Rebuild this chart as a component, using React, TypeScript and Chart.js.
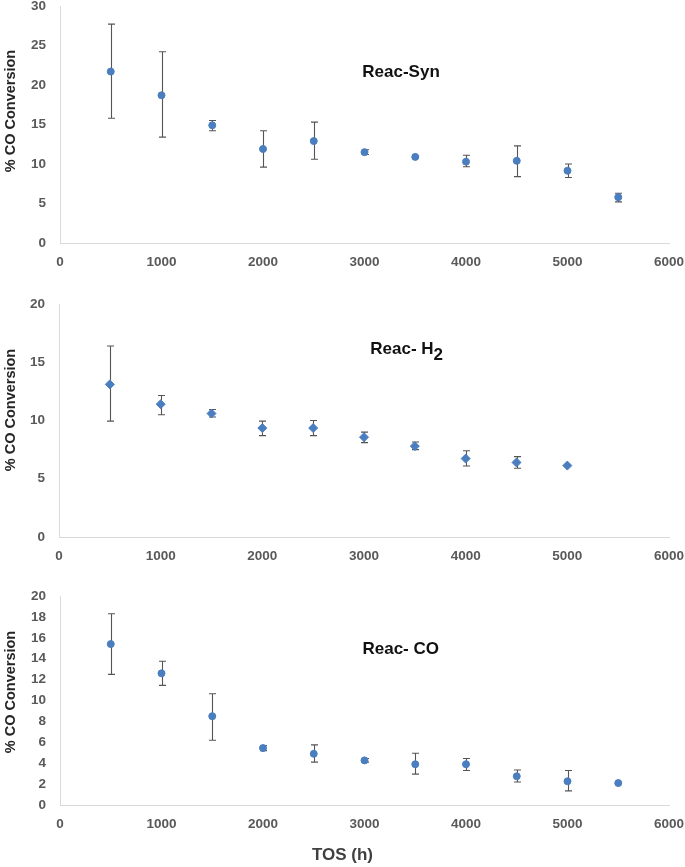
import React, { useEffect, useRef } from "react";
import { Chart, registerables } from "chart.js";

Chart.register(...registerables);

// ---------- Data ----------
const xTicks = [0, 1000, 2000, 3000, 4000, 5000, 6000];

const tosSyn = [500, 1000, 1500, 2000, 2500, 3000, 3500, 4000, 4500, 5000, 5500];
const synValues = [21.7, 18.7, 14.9, 11.9, 12.9, 11.5, 10.9, 10.3, 10.4, 9.15, 5.8];
const synUpper = [27.7, 24.2, 15.5, 14.2, 15.3, 11.8, 11.0, 11.1, 12.3, 10.0, 6.3];
const synLower = [15.8, 13.4, 14.2, 9.6, 10.6, 11.2, 10.8, 9.65, 8.4, 8.3, 5.2];

const tosH2 = [500, 1000, 1500, 2000, 2500, 3000, 3500, 4000, 4500, 5000];
const h2Values = [13.1, 11.4, 10.6, 9.35, 9.35, 8.57, 7.8, 6.73, 6.4, 6.13];
const h2Upper = [16.4, 12.15, 10.95, 9.95, 10.0, 9.0, 8.15, 7.4, 6.9, 6.13];
const h2Lower = [9.95, 10.5, 10.3, 8.7, 8.7, 8.1, 7.5, 6.1, 5.9, 6.13];

const tosCO = [500, 1000, 1500, 2000, 2500, 3000, 3500, 4000, 4500, 5000, 5500];
const coValues = [15.4, 12.6, 8.5, 5.45, 4.9, 4.27, 3.9, 3.9, 2.75, 2.27, 2.1];
const coUpper = [18.3, 13.75, 10.65, 5.7, 5.75, 4.45, 4.95, 4.45, 3.35, 3.3, 2.1];
const coLower = [12.5, 11.45, 6.2, 5.2, 4.1, 4.1, 2.95, 3.3, 2.2, 1.35, 2.1];

const yAxisTitle = "% CO Conversion";
const xAxisTitle = "TOS (h)";

// ---------- Styles ----------
const FONT = "'Liberation Sans', Arial, sans-serif";
const POINT_COLOR = "#4a7ebf";
const TICK_COLOR = "#595959";
const AXIS_COLOR = "#d9d9d9";
const ERR_COLOR = "#555555";

type PanelSpec = {
  height: number;
  xs: number[];
  values: number[];
  upper: number[];
  lower: number[];
  yMax: number;
  yStep: number;
  pointStyle: string;
  radius: number;
  label: string;
  sub?: string;
  labelX: number;
  labelY: number;
  top: number;
  left: number;
  xAxisHeight: number;
  showXTitle: boolean;
  yTitleCenter: number;
};

const errorBarPlugin = {
  id: "errorBars",
  beforeDatasetsDraw(chart: any) {
    const spec: PanelSpec = chart.options.plugins.errorBars.spec;
    const xs = chart.scales.x;
    const ys = chart.scales.y;
    const ctx = chart.ctx;
    ctx.save();
    ctx.strokeStyle = ERR_COLOR;
    ctx.lineWidth = 1.1;
    const cap = 3.5;
    spec.xs.forEach((xv, i) => {
      const up = spec.upper[i];
      const lo = spec.lower[i];
      if (up - lo < 1e-6) return;
      const px = Math.round(xs.getPixelForValue(xv)) + 0.5;
      const pu = ys.getPixelForValue(up);
      const pl = ys.getPixelForValue(lo);
      ctx.beginPath();
      ctx.moveTo(px, pu);
      ctx.lineTo(px, pl);
      ctx.moveTo(px - cap, pu);
      ctx.lineTo(px + cap, pu);
      ctx.moveTo(px - cap, pl);
      ctx.lineTo(px + cap, pl);
      ctx.stroke();
    });
    ctx.restore();
  },
};

const labelPlugin = {
  id: "panelLabel",
  afterDraw(chart: any) {
    const spec: PanelSpec = chart.options.plugins.panelLabel.spec;
    const ctx = chart.ctx;
    const x = chart.scales.x.getPixelForValue(spec.labelX);
    const y = chart.scales.y.getPixelForValue(spec.labelY);
    ctx.save();
    ctx.font = `bold 17px ${FONT}`;
    ctx.fillStyle = "#111111";
    ctx.textBaseline = "middle";
    const mainW = ctx.measureText(spec.label).width;
    const subW = spec.sub ? ctx.measureText(spec.sub).width : 0;
    const total = mainW + subW;
    const start = x - total / 2;
    ctx.textAlign = "left";
    ctx.fillText(spec.label, start, y);
    if (spec.sub) {
      ctx.fillText(spec.sub, start + mainW, y + 6);
    }
    if (spec.showXTitle) {
      ctx.font = `bold 17px ${FONT}`;
      ctx.fillStyle = "#404040";
      ctx.textAlign = "center";
      ctx.fillText(xAxisTitle, chart.width / 2, chart.height - 12);
    }
    // y-axis title
    ctx.translate(10.5, spec.yTitleCenter);
    ctx.rotate(-Math.PI / 2);
    ctx.font = `bold 14.5px ${FONT}`;
    ctx.fillStyle = "#262626";
    ctx.textAlign = "center";
    ctx.textBaseline = "middle";
    ctx.fillText(yAxisTitle, 0, 0);
    ctx.restore();
  },
};

function Panel({ spec }: { spec: PanelSpec }) {
  const ref = useRef<HTMLCanvasElement | null>(null);
  useEffect(() => {
    if (!ref.current) return;
    const chart = new Chart(ref.current, {
      type: "scatter",
      data: {
        datasets: [
          {
            data: spec.xs.map((x, i) => ({ x, y: spec.values[i] })),
            backgroundColor: POINT_COLOR,
            borderColor: POINT_COLOR,
            borderWidth: 1,
            pointStyle: spec.pointStyle as any,
            pointRadius: spec.radius,
            showLine: false,
          },
        ],
      },
      options: {
        animation: false,
        responsive: true,
        maintainAspectRatio: false,
        layout: { padding: { top: spec.top, left: 0, right: 16, bottom: 0 } },
        plugins: {
          legend: { display: false },
          tooltip: { enabled: false },
          errorBars: { spec },
          panelLabel: { spec },
        } as any,
        scales: {
          x: {
            type: "linear",
            min: 0,
            max: 6000,
            afterBuildTicks: (s: any) => {
              s.ticks = xTicks.map((v) => ({ value: v }));
            },
            afterFit: (s: any) => {
              s.height = spec.xAxisHeight;
              s.paddingLeft = 0;
              s.paddingRight = 0;
            },
            grid: { display: false, drawTicks: false },
            border: { display: true, color: AXIS_COLOR, width: 1 },
            ticks: {
              color: TICK_COLOR,
              padding: 11,
              font: { family: FONT, size: 13.5, weight: "bold", lineHeight: 1.2 },
              maxRotation: 0,
              autoSkip: false,
              callback: (v: any) => String(v),
            },
          },
          y: {
            type: "linear",
            min: 0,
            max: spec.yMax,
            ticks: {
              stepSize: spec.yStep,
              color: TICK_COLOR,
              padding: 14,
              font: { family: FONT, size: 13.5, weight: "bold", lineHeight: 1.2 },
              callback: (v: any) => String(v),
            },
            afterFit: (s: any) => {
              s.width = spec.left;
              s.paddingTop = 0;
              s.paddingBottom = 0;
            },
            grid: { display: false, drawTicks: false },
            border: { display: true, color: AXIS_COLOR, width: 1 },
          },
        },
      } as any,
      plugins: [errorBarPlugin, labelPlugin],
    });
    return () => chart.destroy();
  }, [spec]);
  return (
    <div style={{ position: "relative", width: 685, height: spec.height }}>
      <canvas ref={ref} />
    </div>
  );
}

const panels: PanelSpec[] = [
  {
    height: 290,
    xs: tosSyn,
    values: synValues,
    upper: synUpper,
    lower: synLower,
    yMax: 30,
    yStep: 5,
    pointStyle: "circle",
    radius: 3.5,
    label: "Reac-Syn",
    labelX: 3360,
    labelY: 21.6,
    top: 6,
    left: 60,
    xAxisHeight: 47,
    showXTitle: false,
    yTitleCenter: 111,
  },
  {
    height: 280,
    xs: tosH2,
    values: h2Values,
    upper: h2Upper,
    lower: h2Lower,
    yMax: 20,
    yStep: 5,
    pointStyle: "rectRot",
    radius: 4.5,
    label: "Reac- H",
    sub: "2",
    labelX: 3420,
    labelY: 16.1,
    top: 14,
    left: 59,
    xAxisHeight: 33,
    showXTitle: false,
    yTitleCenter: 120,
  },
  {
    height: 297,
    xs: tosCO,
    values: coValues,
    upper: coUpper,
    lower: coLower,
    yMax: 20,
    yStep: 2,
    pointStyle: "circle",
    radius: 3.5,
    label: "Reac- CO",
    labelX: 3357,
    labelY: 14.9,
    top: 26,
    left: 60,
    xAxisHeight: 62,
    showXTitle: true,
    yTitleCenter: 122,
  },
];

export default function App() {
  return (
    <div
      style={{
        position: "absolute",
        left: 0,
        top: 0,
        width: 685,
        height: 867,
        background: "#ffffff",
      }}
    >
      {panels.map((p, i) => (
        <Panel key={i} spec={p} />
      ))}
    </div>
  );
}
